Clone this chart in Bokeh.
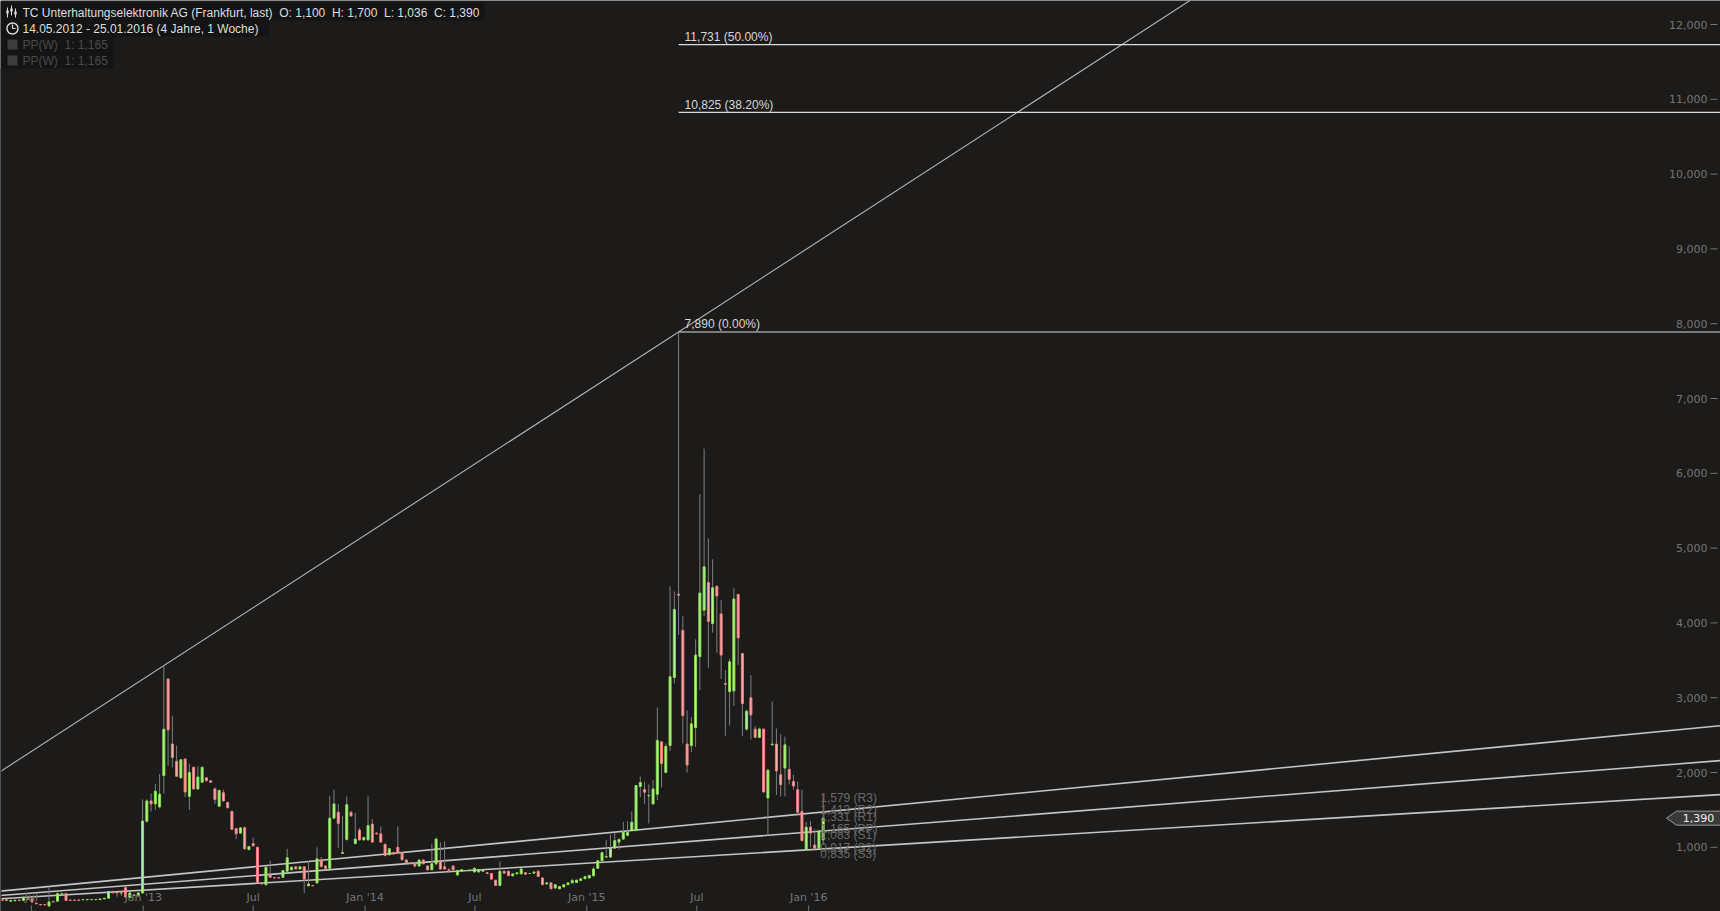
import numpy as np
import pandas as pd
from bokeh.plotting import figure
from bokeh.models import Range1d, ColumnDataSource
from bokeh.core.properties import value
from bokeh.embed import file_html
from bokeh.resources import INLINE

# ---------------------------------------------------------------------------
# Weekly OHLC, TC Unterhaltungselektronik AG (Frankfurt), EUR
# ---------------------------------------------------------------------------
first_week = "2012-05-14"

opens = [
    .300, .300, .280, .285, .295, .290, .310, .310, .255, .235,
    .235, .215, .275, .280, .375, .380, .295, .295, .295, .298,
    .298, .300, .300, .300, .310, .320, .410, .395, .390, .460,
    .330, .365, .350, .390, 1.350, 1.620, 1.580, 1.540, 1.960, 3.250,
    2.380, 2.150, 1.930, 2.180, 1.680, 2.070, 1.780, 1.870, 1.930, 1.890,
    1.780, 1.550, 1.730, 1.600, 1.480, 1.250, 1.190, 1.260, .970, 1.050,
    1.000, .525, .500, .640, .595, .595, .600, .680, .700, .740,
    .710, .740, .485, .490, .525, .830, .750, .720, 1.390, 1.470,
    .920, 1.105, 1.470, 1.050, 1.230, 1.100, 1.100, 1.310, 1.190, 1.180,
    1.040, .900, .930, 1.000, .930, .830, .792, .780, .750, .830,
    .750, .700, .780, .820, .740, .700, .750, .630, .680, .690,
    .690, .670, .670, .680, .660, .650, .560, .490, .680, .680,
    .620, .645, .645, .660, .650, .655, .680, .590, .510, .525,
    .455, .445, .470, .500, .525, .530, .555, .580, .590, .620,
    .720, .820, .870, .870, .990, 1.070, 1.110, 1.160, 1.225, 1.225,
    1.813, 1.773, 1.690, 1.580, 1.710, 2.410, 2.000, 2.360, 3.270, 4.385,
    3.900, 2.380, 2.360, 2.600, 3.550, 4.170, 4.540, 3.990, 4.490, 4.120,
    3.190, 3.080, 3.090, 4.380, 3.590, 2.580, 3.000, 2.580, 2.470, 2.580,
    1.660, 2.370, 2.380, 1.970, 2.060, 2.040, 1.880, 1.770, 1.480, .970,
    1.270, 1.030, .990, 1.100,
]
highs = [
    .310, .300, .300, .300, .300, .350, .320, .320, .260, .240,
    .240, .470, .280, .400, .385, .385, .300, .300, .300, .305,
    .305, .305, .305, .312, .322, .420, .420, .400, .410, .480,
    .400, .370, .395, 1.640, 1.640, 1.720, 1.850, 1.980, 3.430, 3.260,
    2.760, 2.360, 2.180, 2.190, 2.120, 2.080, 2.080, 2.080, 1.935, 1.895,
    1.800, 1.770, 1.770, 1.610, 1.490, 1.260, 1.270, 1.280, 1.020, 1.130,
    1.010, .530, .740, .820, .600, .600, .700, .980, .740, .745,
    .745, .750, .820, .495, 1.000, .870, .760, 1.690, 1.770, 1.580,
    1.420, 1.680, 1.480, 1.460, 1.260, 1.140, 1.680, 1.380, 1.200, 1.280,
    1.050, .990, .940, 1.280, .935, .840, .800, .790, .840, .840,
    .760, 1.050, 1.130, 1.070, 1.080, .720, .760, .700, .710, .695,
    .700, .730, .705, .705, .670, .655, .565, .810, .690, .690,
    .650, .665, .720, .670, .655, .675, .690, .600, .530, .530,
    .505, .480, .505, .530, .580, .570, .585, .615, .630, .740,
    .830, .940, 1.100, 1.170, 1.190, 1.120, 1.340, 1.350, 1.480, 1.830,
    1.947, 1.880, 1.840, 1.900, 2.870, 2.420, 2.390, 4.490, 4.420, 7.890,
    4.090, 2.830, 2.740, 3.780, 5.720, 6.330, 5.130, 4.850, 4.500, 4.310,
    3.370, 3.520, 4.470, 4.390, 3.600, 2.840, 3.300, 2.620, 2.600, 2.590,
    2.050, 2.950, 2.590, 2.510, 2.480, 2.350, 1.970, 1.880, 1.770, 1.340,
    1.350, 1.240, 1.230, 1.700,
]
lows = [
    .280, .280, .270, .275, .285, .280, .300, .260, .240, .225,
    .225, .210, .265, .270, .370, .285, .285, .285, .285, .295,
    .295, .295, .295, .298, .305, .310, .385, .340, .350, .330,
    .320, .355, .345, .380, 1.330, 1.480, 1.500, 1.520, 1.720, 2.090,
    2.070, 1.940, 1.920, 1.670, 1.500, 1.770, 1.770, 1.860, 1.880, 1.860,
    1.580, 1.540, 1.610, 1.520, 1.230, 1.110, 1.180, .970, .960, 1.010,
    .520, .505, .490, .590, .585, .585, .590, .670, .690, .705,
    .705, .390, .480, .480, .510, .730, .710, .710, 1.380, .990,
    .915, 1.090, 1.410, 1.040, 1.090, 1.090, 1.090, 1.060, 1.170, 1.060,
    .880, .890, .905, .920, .825, .785, .780, .730, .740, .770,
    .690, .690, .760, .700, .700, .660, .690, .620, .670, .685,
    .680, .665, .665, .675, .640, .570, .485, .480, .650, .615,
    .610, .640, .640, .635, .645, .650, .605, .495, .505, .440,
    .450, .440, .465, .495, .520, .525, .550, .575, .585, .610,
    .710, .810, .860, .860, .980, .970, 1.100, 1.150, 1.210, 1.210,
    1.670, 1.580, 1.320, 1.570, 1.630, 1.800, 1.990, 2.290, 3.190, 3.840,
    2.390, 2.000, 2.270, 2.340, 3.100, 4.090, 3.400, 3.870, 3.600, 3.250,
    2.490, 2.630, 2.890, 3.440, 2.490, 2.560, 2.440, 2.460, 2.460, 1.730,
    1.160, 2.360, 1.700, 1.680, 1.680, 1.840, 1.770, 1.420, 1.080, .960,
    1.000, .980, .980, 1.036,
]
closes = [
    .290, .290, .290, .292, .290, .330, .305, .270, .245, .230,
    .230, .270, .270, .380, .380, .290, .290, .290, .290, .302,
    .302, .303, .303, .310, .320, .410, .390, .390, .390, .335,
    .390, .360, .390, 1.350, 1.620, 1.580, 1.750, 1.710, 2.580, 2.570,
    2.200, 1.950, 2.170, 1.740, 2.000, 1.780, 1.940, 2.070, 1.890, 1.870,
    1.640, 1.760, 1.620, 1.530, 1.240, 1.180, 1.260, .980, 1.010, 1.020,
    .530, .510, .735, .600, .590, .590, .690, .860, .735, .710,
    .740, .575, .510, .485, .846, .745, .720, 1.390, 1.580, 1.320,
    .930, 1.570, 1.420, 1.110, 1.100, 1.130, 1.290, 1.070, 1.180, 1.070,
    .890, .980, .910, .930, .833, .793, .788, .750, .830, .780,
    .700, .780, 1.110, .710, .710, .690, .700, .690, .700, .690,
    .695, .720, .700, .700, .650, .575, .490, .680, .655, .620,
    .645, .660, .710, .640, .650, .670, .610, .500, .525, .445,
    .500, .475, .500, .525, .555, .560, .580, .610, .625, .710,
    .820, .930, .875, .990, 1.090, 1.105, 1.200, 1.200, 1.336, 1.826,
    1.866, 1.737, 1.692, 1.780, 2.430, 2.120, 2.350, 3.280, 4.180, 4.370,
    2.760, 2.100, 2.650, 3.570, 4.400, 4.750, 4.020, 4.470, 4.360, 3.570,
    3.180, 3.480, 4.320, 3.800, 2.920, 2.820, 2.770, 2.470, 2.580, 1.740,
    2.030, 2.380, 2.020, 1.840, 2.370, 1.910, 1.820, 1.470, 1.090, 1.270,
    1.190, .990, 1.220, 1.390,
]

# Fibonacci extension of the 2015 spike
fib_levels = [7.890, 10.825, 11.731]
fib_pcts = ["0.00%", "38.20%", "50.00%"]
fib_anchor = 159          # candle that carries the 7,890 high

# Resistance line through the two swing highs
res_anchor_a, res_anchor_b = 38, 159

# Rising support fan: value at first and at last candle
fan_start = [0.416, 0.357, 0.313]
fan_end = [1.472, 1.218, 0.978]

# Weekly pivot points
pivot_values = [1.579, 1.413, 1.331, 1.165, 1.083, 0.917, 0.835]
pivot_names = ["R3", "R2", "R1", "PP", "S1", "S2", "S3"]

# Axes
y_ticks = [1, 2, 3, 4, 5, 6, 7, 8, 9, 10, 11, 12]
x_tick_dates = ["2012-07-01", "2013-01-01", "2013-07-01", "2014-01-01",
                "2014-07-01", "2015-01-01", "2015-07-01", "2016-01-01"]
x_tick_labels = ["Jul", "Jan '13", "Jul", "Jan '14", "Jul", "Jan '15", "Jul", "Jan '16"]

title = "TC Unterhaltungselektronik AG (Frankfurt, last)"
period = "14.05.2012 - 25.01.2016 (4 Jahre, 1 Woche)"
pp_legend = "PP(W)\u00a0\u00a01: 1,165"

GAP = "\u00a0\u00a0"      # keeps the double spaces in SVG text


def de(v):
    return f"{v:.3f}".replace(".", ",")


# ---------------------------------------------------------------------------
# Geometry
# ---------------------------------------------------------------------------
W, H = 1720, 911
BG = "#1c1b1a"
WEEK = 7 * 86400000.0
PX_PER_WEEK = 4.254
FIRST_PX = 1.7

dates = pd.date_range(first_week, periods=len(opens), freq="7D")
t = dates.values.astype("datetime64[ms]").astype("int64").astype(float)

x_start = t[0] - FIRST_PX / PX_PER_WEEK * WEEK
x_end = x_start + W / PX_PER_WEEK * WEEK
y_top, y_bottom = 12.321, 0.142
dxp = (x_end - x_start) / W
dyp = (y_top - y_bottom) / H


def px_x(px):
    return x_start + px * dxp


def px_y(py):
    return y_top - py * dyp


p = figure(width=W, height=H, x_range=Range1d(x_start, x_end),
           y_range=Range1d(y_bottom, y_top), x_axis_type=None, y_axis_type=None,
           output_backend="svg", toolbar_location=None, min_border=0,
           background_fill_color=BG, border_fill_color=BG, outline_line_color=None)
p.grid.visible = False

SANS = value("Liberation Sans")
AXF = value("DejaVu Sans")

# Support fan
for a, b in zip(fan_start, fan_end):
    slope = (b - a) / (t[-1] - t[0])
    p.line([x_start, x_end], [a + slope * (x_start - t[0]), a + slope * (x_end - t[0])],
           line_color="#c4c4c4", line_width=1.6)

# Resistance line
ta, tb = t[res_anchor_a], t[res_anchor_b]
ha, hb = highs[res_anchor_a], highs[res_anchor_b]
rs = (hb - ha) / (tb - ta)
p.line([x_start, x_end], [ha + rs * (x_start - ta), ha + rs * (x_end - ta)],
       line_color="#b4b4b4", line_width=1.1)

# Fibonacci levels
fx = t[fib_anchor]
for lv, pc in zip(fib_levels, fib_pcts):
    p.line([fx, x_end], [lv, lv], line_color="#dcdcdc", line_width=1.1)
p.text(x=[fx + 6 * dxp] * 3, y=[lv + 7.5 * dyp for lv in fib_levels],
       text=[f"{de(lv)} ({pc})" for lv, pc in zip(fib_levels, fib_pcts)],
       text_font=SANS, text_font_size="12px", text_color="#d6d6d6",
       text_baseline="middle", text_align="left")

# Candles
inc = [c >= o for o, c in zip(opens, closes)]
src = ColumnDataSource(dict(
    x=t, high=highs, low=lows,
    top=[max(o, c) for o, c in zip(opens, closes)],
    bottom=[min(o, c) for o, c in zip(opens, closes)],
    fill=["#bff59a" if u else "#f7b3b3" for u in inc],
    line=["#84e04e" if u else "#ef7d7d" for u in inc],
))
p.segment(x0="x", y0="low", x1="x", y1="high", source=src,
          line_color="#7e7e7e", line_width=1)
p.vbar(x="x", width=2 * dxp, top="top", bottom="bottom", source=src,
       fill_color="fill", line_color="line", line_width=1)

# Pivot labels next to the last candle
p.text(x=[t[-1] - 3 * dxp] * len(pivot_values),
       y=[v + 6 * dyp for v in pivot_values],
       text=[f"{de(v)} ({n})" for v, n in zip(pivot_values, pivot_names)],
       text_font=SANS, text_font_size="12px", text_color="#6a6a6a",
       text_baseline="middle", text_align="left")

# Y axis (right, drawn inside)
p.text(x=[px_x(1707)] * len(y_ticks), y=y_ticks, text=[de(v) for v in y_ticks],
       text_font=AXF, text_font_size="11px", text_color="#747474",
       text_baseline="middle", text_align="right")
p.segment(x0=[px_x(1710)] * len(y_ticks), y0=y_ticks,
          x1=[px_x(1717)] * len(y_ticks), y1=y_ticks, line_color="#747474", line_width=1)

# X axis (bottom, drawn inside)
xt = pd.to_datetime(x_tick_dates).values.astype("datetime64[ms]").astype("int64").astype(float)
p.text(x=xt, y=[px_y(897)] * len(xt), text=x_tick_labels,
       text_font=AXF, text_font_size="11px", text_color="#747474",
       text_baseline="middle", text_align="center")
p.segment(x0=xt, y0=[px_y(905)] * len(xt), x1=xt, y1=[px_y(911)] * len(xt),
          line_color="#747474", line_width=1)

# Last price marker
c = closes[-1]
yc = (y_top - c) / dyp
p.patch([px_x(1666), px_x(1676), px_x(1720), px_x(1720), px_x(1676)],
        [c, px_y(yc - 7), px_y(yc - 7), px_y(yc + 7), px_y(yc + 7)],
        fill_color="#3a3a3a", line_color="#9a9a9a", line_width=1)
p.text(x=[px_x(1698)], y=[c], text=[de(c)], text_font=AXF, text_font_size="11px",
       text_color="#f0f0f0", text_baseline="middle", text_align="center")

# Clean left edge of the canvas
p.quad(left=[px_x(-2)], right=[px_x(1.0)], top=[px_y(68)], bottom=[px_y(913)],
       fill_color=BG, line_color=None)

# Header panel
p.quad(left=[px_x(0), px_x(0), px_x(0)], right=[px_x(484), px_x(269), px_x(113)],
       top=[px_y(2), px_y(20), px_y(36)], bottom=[px_y(20), px_y(36), px_y(68)],
       fill_color="#141414", line_color=None)
ohlc = GAP.join([f"O: {de(opens[-1])}", f"H: {de(highs[-1])}",
                 f"L: {de(lows[-1])}", f"C: {de(closes[-1])}"])
p.text(x=[px_x(22), px_x(22)], y=[px_y(12), px_y(28)],
       text=[f"{title}{GAP}{ohlc}", period], text_font=SANS, text_font_size="12px",
       text_color="#dedede", text_baseline="middle", text_align="left")
p.text(x=[px_x(22), px_x(22)], y=[px_y(44), px_y(60)], text=[pp_legend, pp_legend],
       text_font=SANS, text_font_size="12px", text_color="#4a4a4a",
       text_baseline="middle", text_align="left")
p.scatter(x=[px_x(12), px_x(12)], y=[px_y(44), px_y(60)], marker="square", size=10,
          fill_color="#3c3c3c", line_color=None)
# chart icon
for k, (yt, yb) in enumerate([(7, 17), (5, 15), (8, 17)]):
    xx = px_x(7 + 4 * k)
    p.segment(x0=[xx], y0=[px_y(yt)], x1=[xx], y1=[px_y(yb)], line_color="#dedede", line_width=1)
    p.quad(left=[xx - 1.2 * dxp], right=[xx + 1.2 * dxp], top=[px_y(yt + 3)],
           bottom=[px_y(yt + 6)], fill_color="#dedede", line_color=None)
# clock icon
p.scatter(x=[px_x(12)], y=[px_y(28)], marker="circle", size=11, fill_color=None,
          line_color="#dedede", line_width=1.4)
p.segment(x0=[px_x(12), px_x(12)], y0=[px_y(28), px_y(28)], x1=[px_x(12), px_x(15)],
          y1=[px_y(24), px_y(28)], line_color="#dedede", line_width=1.2)

html = file_html(p, INLINE)
html = html.replace("<body>", f'<body style="margin:0;background:{BG}">', 1)
open("out.html", "w").write(html)
